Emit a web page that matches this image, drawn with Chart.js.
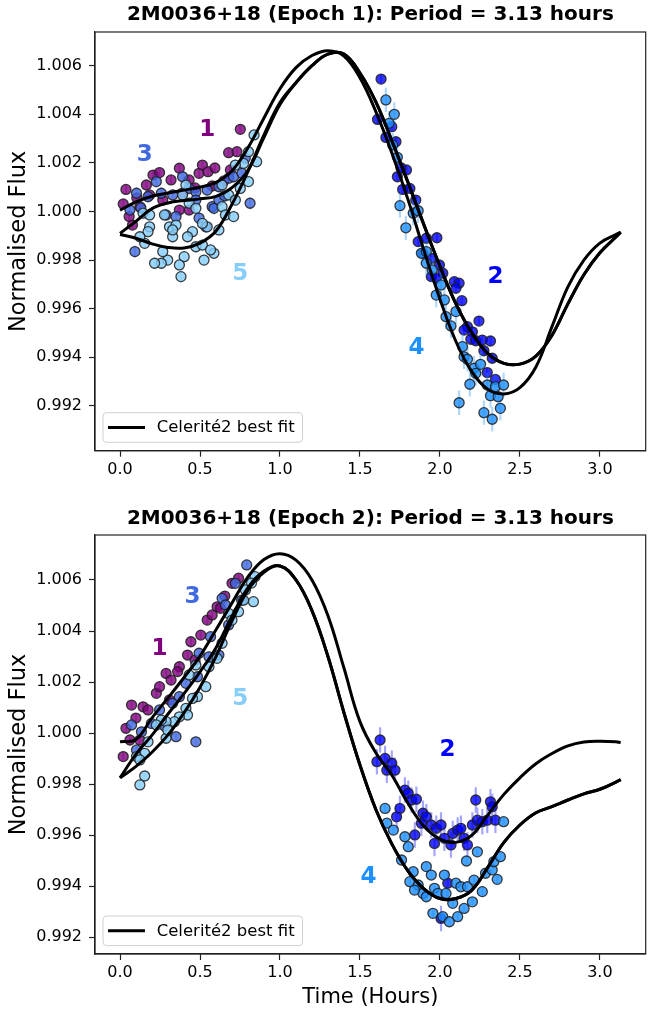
<!DOCTYPE html>
<html>
<head>
<meta charset="utf-8">
<script src="https://cdn.jsdelivr.net/npm/chart.js@4.4.0/dist/chart.umd.min.js"></script>
<style>
  body { margin: 0; background: #fff; width: 651px; height: 1014px; overflow: hidden; position: relative; }
  canvas { position: absolute; left: 0; }
  #top { top: 0; }
  #bottom { top: 500px; }
</style>
</head>
<body>
<canvas id="top" width="652" height="500"></canvas>
<canvas id="bottom" width="652" height="514"></canvas>
<script>
// time grid of the best-fit curves (hours)
const fitTime = [0, 0.1, 0.2, 0.3, 0.4, 0.5, 0.6, 0.7, 0.8, 0.9, 1.0, 1.1, 1.2, 1.3, 1.4, 1.5, 1.6,
  1.7, 1.8, 1.9, 2.0, 2.1, 2.2, 2.3, 2.4, 2.5, 2.6, 2.7, 2.8, 2.9, 3.0, 3.1, 3.13];

// Epoch 1 best fits
const topFitA = [1.00005, 1.00040, 1.00063, 1.00076, 1.00088, 1.00100, 1.00120, 1.00168, 1.00262, 1.00385,
  1.00505, 1.00592, 1.00642, 1.00662, 1.00640, 1.00550, 1.00410, 1.00240, 1.00050, 0.99840,
  0.99640, 0.99465, 0.99340, 0.99268, 0.99249, 0.99275, 0.99360, 0.99525, 0.99690, 0.99800,
  0.99870, 0.99905, 0.99915];
const topFitB = [0.99910, 0.99960, 1.00012, 1.00035, 1.00045, 1.00052, 1.00062, 1.00098, 1.00170, 1.00305,
  1.00440, 1.00530, 1.00600, 1.00648, 1.00648, 1.00570, 1.00450, 1.00290, 1.00120, 0.99945,
  0.99775, 0.99620, 0.99500, 0.99415, 0.99375, 0.99372, 0.99405, 0.99490, 0.99620, 0.99740,
  0.99830, 0.99895, 0.99915];
const topFitC = [0.99905, 0.99890, 0.99867, 0.99852, 0.99850, 0.99870, 0.99920, 1.00030, 1.00165, 1.00315,
  1.00448, 1.00530, 1.00600, 1.00648, 1.00648, 1.00570, 1.00450, 1.00290, 1.00120, 0.99945,
  0.99775, 0.99620, 0.99500, 0.99415, 0.99375, 0.99372, 0.99405, 0.99490, 0.99620, 0.99740,
  0.99830, 0.99895, 0.99915];

// Epoch 2 best fits
const botFitU = [0.99966, 0.99975, 1.00060, 1.00138, 1.00218, 1.00302, 1.00405, 1.00510, 1.00612, 1.00680,
  1.00703, 1.00678, 1.00600, 1.00460, 1.00255, 1.00045, 0.99922, 0.99835, 0.99725, 0.99635,
  0.99585, 0.99572, 0.99600, 0.99680, 0.99760, 0.99825, 0.99880, 0.99920, 0.99950, 0.99965,
  0.99968, 0.99966, 0.99963];
const botFitM = [0.99825, 0.99918, 0.99992, 1.00075, 1.00155, 1.00240, 1.00335, 1.00458, 1.00570, 1.00635,
  1.00655, 1.00600, 1.00480, 1.00300, 1.00080, 0.99875, 0.99700, 0.99565, 0.99460, 0.99390,
  0.99352, 0.99352, 0.99385, 0.99475, 0.99572, 0.99640, 0.99688, 0.99712, 0.99738, 0.99762,
  0.99780, 0.99808, 0.99818];
const botFitL = [0.99825, 0.99870, 0.99925, 0.99993, 1.00080, 1.00180, 1.00300, 1.00440, 1.00560, 1.00630,
  1.00655, 1.00600, 1.00480, 1.00300, 1.00080, 0.99875, 0.99700, 0.99565, 0.99460, 0.99390,
  0.99352, 0.99352, 0.99385, 0.99475, 0.99572, 0.99640, 0.99688, 0.99712, 0.99738, 0.99762,
  0.99780, 0.99808, 0.99818];

// observed points [time, flux], one list per rotation
const top1 = [[0.752,1.00338],[0.679,1.00242],[0.731,1.00246],[0.037,1.00091],[0.020,1.00031],[0.057,0.99979],
  [0.078,0.99944],[0.165,1.00109],[0.206,1.00150],[0.247,1.00160],[0.319,1.00130],[0.371,1.00178],
  [0.432,1.00130],[0.494,1.00157],[0.515,1.00191],[0.550,1.00164],[0.690,1.00171],[0.432,1.00006],
  [0.371,1.00006],[0.124,1.00020],[0.267,1.00047],[0.391,1.00076],[0.576,1.00105],[0.649,1.00126],
  [0.185,1.00068],[0.593,1.00179],[0.469,1.00097],[0.105,1.00056]];
const top2 = [[1.632,1.00545],[1.610,1.00379],[1.662,1.00305],[1.725,1.00287],[1.734,1.00143],[1.791,1.00171],
  [1.767,1.00091],[1.812,1.00095],[1.849,1.00047],[1.864,0.99876],[1.915,0.99890],[1.981,0.99892],
  [1.699,1.00349],[1.756,1.00180],[1.894,0.99828],[1.946,0.99807],[1.997,0.99780],[2.018,0.99746],
  [1.946,0.99732],[1.977,0.99725],[2.090,0.99711],[2.120,0.99705],[2.100,0.99684],[2.137,0.99633],
  [2.244,0.99549],[2.172,0.99526],[2.151,0.99512],[2.203,0.99505],[2.193,0.99474],[2.224,0.99468],
  [2.265,0.99471],[2.316,0.99467],[2.275,0.99427],[2.327,0.99396],[2.296,0.99337],[2.347,0.99309]];
const top3 = [[0.813,1.00034],[0.093,0.99835],[0.062,1.00006],[0.103,1.00075],[0.227,1.00123],[0.391,1.00143],
  [0.288,0.99986],[0.350,0.99979],[0.536,0.99937],[0.576,1.00020],[0.545,1.00088],[0.618,1.00102],
  [0.679,1.00137],[0.710,1.00143],[0.762,1.00157],[0.783,1.00219],[0.432,1.00095],[0.474,1.00081],
  [0.329,1.00068],[0.258,1.00075],[0.175,1.00061],[0.474,1.00047],[0.618,1.00047],[0.587,1.00013],
  [0.130,1.00015],[0.494,0.99973],[0.655,1.00064]];
const top4 = [[1.662,1.00459],[1.715,1.00400],[1.682,1.00363],[1.705,1.00274],[1.734,1.00223],[1.750,1.00024],
  [1.787,0.99933],[1.833,0.99993],[1.864,1.00003],[1.884,0.99828],[1.915,0.99835],[1.915,0.99787],
  [1.977,0.99656],[2.028,0.99636],[2.038,0.99567],[2.069,0.99529],[2.100,0.99588],[2.141,0.99444],
  [2.151,0.99402],[2.172,0.99392],[2.213,0.99355],[2.224,0.99334],[2.254,0.99371],[2.187,0.99289],
  [2.296,0.99286],[2.347,0.99279],[2.398,0.99286],[2.316,0.99242],[2.364,0.99238],[2.378,0.99190],
  [2.120,0.99213],[2.275,0.99172],[2.327,0.99145],[1.952,0.99760],[2.007,0.99698]];
const top5 = [[0.838,1.00315],[0.803,1.00246],[0.854,1.00205],[0.772,1.00198],[0.721,1.00191],[0.803,1.00123],
  [0.752,1.00095],[0.679,1.00068],[0.721,1.00047],[0.638,1.00020],[0.659,0.99986],[0.710,0.99979],
  [0.618,0.99924],[0.545,0.99937],[0.515,0.99951],[0.453,0.99917],[0.422,0.99896],[0.474,0.99855],
  [0.515,0.99862],[0.587,0.99828],[0.566,0.99842],[0.525,0.99800],[0.401,0.99814],[0.371,0.99780],
  [0.381,0.99732],[0.298,0.99800],[0.258,0.99787],[0.216,0.99787],[0.267,0.99835],[0.329,0.99896],
  [0.309,0.99937],[0.350,0.99944],[0.185,0.99937],[0.175,0.99917],[0.154,0.99869],[0.124,0.99896],
  [0.144,0.99993],[0.185,0.99986],[0.278,0.99986],[0.432,1.00034],[0.474,1.00013],[0.391,1.00068],
  [0.412,1.00109],[0.638,1.00109],[0.329,0.99924]];

const bot1 = [[0.020,0.99908],[0.037,1.00019],[0.072,1.00110],[0.144,1.00103],[0.175,1.00091],[0.227,1.00156],
  [0.247,1.00182],[0.288,1.00234],[0.319,1.00208],[0.371,1.00260],[0.360,1.00241],[0.422,1.00306],
  [0.443,1.00358],[0.505,1.00384],[0.545,1.00443],[0.576,1.00463],[0.607,1.00495],[0.628,1.00489],
  [0.700,1.00587],[0.741,1.00607],[0.062,0.99973],[0.124,0.99973],[0.099,1.00059],[0.655,1.00537],
  [0.469,1.00286],[0.309,1.00130]];
const bot2 = [[1.626,0.99973],[1.606,0.99888],[1.657,0.99901],[1.699,0.99882],[1.719,0.99855],[1.668,0.99855],
  [1.781,0.99777],[1.802,0.99764],[1.822,0.99738],[1.853,0.99741],[1.750,0.99705],[1.729,0.99672],
  [1.894,0.99686],[1.915,0.99672],[1.884,0.99647],[1.843,0.99601],[1.946,0.99640],[1.977,0.99627],
  [2.007,0.99640],[1.966,0.99568],[2.028,0.99588],[2.069,0.99562],[2.080,0.99607],[2.111,0.99620],
  [2.131,0.99627],[2.151,0.99588],[2.172,0.99562],[2.203,0.99640],[2.234,0.99659],[2.265,0.99653],
  [2.224,0.99738],[2.316,0.99731],[2.327,0.99712],[2.296,0.99659],[2.347,0.99659],[2.049,0.99412],
  [2.007,0.99274]];
const bot3 = [[0.792,1.00659],[0.721,1.00587],[0.638,1.00528],[0.659,1.00502],[0.566,1.00378],[0.556,1.00299],
  [0.618,1.00306],[0.412,1.00195],[0.484,1.00221],[0.474,0.99966],[0.350,0.99986],[0.329,1.00117],
  [0.371,1.00143],[0.196,1.00038],[0.134,1.00005],[0.072,1.00032],[0.103,0.99934],[0.247,1.00091],
  [0.494,1.00313],[0.679,1.00424],[0.760,1.00521],[0.278,1.00028]];
const bot4 = [[2.398,0.99653],[1.657,0.99705],[1.668,0.99647],[1.709,0.99620],[1.781,0.99594],[1.802,0.99555],
  [1.760,0.99503],[1.833,0.99457],[1.812,0.99418],[1.915,0.99477],[1.946,0.99444],[1.864,0.99405],
  [1.894,0.99372],[1.841,0.99385],[1.915,0.99359],[1.966,0.99392],[1.987,0.99372],[2.038,0.99372],
  [2.028,0.99444],[2.080,0.99333],[2.100,0.99412],[2.131,0.99398],[2.172,0.99398],[2.203,0.99339],
  [1.956,0.99294],[2.018,0.99281],[2.059,0.99261],[2.111,0.99281],[2.151,0.99313],[2.213,0.99424],
  [2.265,0.99379],[2.285,0.99451],[2.327,0.99464],[2.358,0.99427],[2.337,0.99496],[2.378,0.99516],
  [2.166,0.99499],[2.234,0.99535]];
const bot5 = [[0.834,1.00515],[0.844,1.00613],[0.772,1.00521],[0.741,1.00476],[0.679,1.00469],[0.700,1.00443],
  [0.638,1.00352],[0.607,1.00293],[0.536,1.00182],[0.556,1.00260],[0.474,1.00267],[0.432,1.00228],
  [0.484,1.00143],[0.453,1.00136],[0.412,1.00097],[0.422,1.00071],[0.371,1.00064],[0.340,1.00045],
  [0.288,1.00045],[0.258,1.00051],[0.227,1.00032],[0.288,0.99980],[0.298,1.00012],[0.175,0.99966],
  [0.154,0.99921],[0.103,0.99908],[0.124,0.99895],[0.154,0.99832],[0.124,0.99797],[0.822,1.00588],
  [0.784,1.00561]];

// flux error per rotation (1..5)
const topErr = [0.0002, 0.0002, 0.00025, 0.0005, 0.00025];
const botErr = [0.0002, 0.0005, 0.0002, 0.00015, 0.0002];

// rotation number labels
const rotNames = ['1', '2', '3', '4', '5'];
const topLabelT = [0.546, 2.347, 0.154, 1.853, 0.751];
const topLabelV = [1.00336, 0.99730, 1.00233, 0.99437, 0.99743];
const botLabelT = [0.247, 2.048, 0.453, 1.554, 0.751];
const botLabelV = [1.00331, 0.99932, 1.00535, 0.99438, 1.00133];

const xTicks = [0, 0.5, 1, 1.5, 2, 2.5, 3];
const yTicks = [0.992, 0.994, 0.996, 0.998, 1.000, 1.002, 1.004, 1.006];

const rotRGB = [[128, 0, 128], [0, 0, 255], [65, 105, 225], [30, 144, 255], [135, 206, 250]];
const rgba = (c, a) => `rgba(${c[0]},${c[1]},${c[2]},${a})`;

Chart.defaults.font.family = '"DejaVu Sans", sans-serif';
Chart.defaults.color = '#000';

function errData(pts, e) {
  const d = [];
  pts.forEach(p => {
    d.push({x: p[0], y: p[1] - e}, {x: p[0], y: p[1] + e}, {x: p[0], y: null});
  });
  return d;
}

function buildDatasets(fits, groups, errs) {
  const ds = fits.map(f => ({
    type: 'line',
    data: fitTime.map((t, i) => ({x: t, y: f[i]})),
    borderColor: '#000', borderWidth: 3, pointRadius: 0, tension: 0.4, fill: false
  }));
  // rotation 5 first so that it sits on top, like the later calls in pyplot
  for (let g = 4; g >= 0; g--) {
    ds.push({
      type: 'scatter',
      data: groups[g].map(p => ({x: p[0], y: p[1]})),
      pointRadius: 5,
      backgroundColor: rgba(rotRGB[g], 0.8),
      borderColor: 'rgba(30,30,30,0.85)',
      borderWidth: 1.3
    });
    ds.push({
      type: 'line',
      data: errData(groups[g], errs[g]),
      borderColor: rgba(rotRGB[g], 0.35),
      borderWidth: 2.2, pointRadius: 0, tension: 0, spanGaps: false, fill: false
    });
  }
  return ds;
}

const framePlugin = {
  id: 'frame',
  afterDraw(chart) {
    const {ctx, chartArea: a} = chart;
    ctx.save();
    ctx.strokeStyle = '#222';
    ctx.lineWidth = 1.2;
    ctx.strokeRect(a.left, a.top, a.right - a.left, a.bottom - a.top);
    ctx.restore();
  }
};

function rotationLabels(ts, vs) {
  return {
    id: 'rotationLabels',
    afterDatasetsDraw(chart) {
      const {ctx, scales: {x, y}} = chart;
      ctx.save();
      ctx.font = 'bold 23px "DejaVu Sans"';
      ctx.textAlign = 'center';
      ctx.textBaseline = 'middle';
      rotNames.forEach((s, i) => {
        ctx.fillStyle = rgba(rotRGB[i], 1);
        ctx.fillText(s, x.getPixelForValue(ts[i]), y.getPixelForValue(vs[i]));
      });
      ctx.restore();
    }
  };
}

// legend box in the lower left corner of the axes
const fitLegend = {
  id: 'fitLegend',
  afterDraw(chart) {
    const {ctx, chartArea: a} = chart;
    const w = 199.5, h = 29.6, r = 3.5;
    const bx = a.left + 8, by = a.bottom - 8.4 - h;
    ctx.save();
    ctx.beginPath();
    ctx.moveTo(bx + r, by);
    ctx.arcTo(bx + w, by, bx + w, by + h, r);
    ctx.arcTo(bx + w, by + h, bx, by + h, r);
    ctx.arcTo(bx, by + h, bx, by, r);
    ctx.arcTo(bx, by, bx + w, by, r);
    ctx.closePath();
    ctx.fillStyle = 'rgba(255,255,255,0.8)';
    ctx.fill();
    ctx.strokeStyle = '#d0d0d0';
    ctx.lineWidth = 1;
    ctx.stroke();
    const cy = by + h / 2;
    ctx.beginPath();
    ctx.moveTo(bx + 5, cy);
    ctx.lineTo(bx + 42, cy);
    ctx.strokeStyle = '#000';
    ctx.lineWidth = 3;
    ctx.stroke();
    ctx.fillStyle = '#000';
    ctx.font = '16.5px "DejaVu Sans"';
    ctx.textBaseline = 'middle';
    ctx.fillText('Celerité2 best fit', bx + 53.7, cy + 0.5);
    ctx.restore();
  }
};

function makeChart(id, opt) {
  const tickGrid = {drawOnChartArea: false, drawTicks: true, tickLength: 6, tickColor: '#222', tickWidth: 1.2};
  return new Chart(document.getElementById(id), {
    type: 'scatter',
    data: {datasets: buildDatasets(opt.fits, opt.groups, opt.errs)},
    options: {
      responsive: false,
      animation: false,
      devicePixelRatio: 1,
      layout: {padding: 0},
      plugins: {
        legend: {display: false},
        tooltip: {enabled: false},
        title: {
          display: true, text: opt.title, fullSize: false, color: '#000',
          font: {size: 20, weight: 'bold'}, padding: opt.titlePad
        }
      },
      scales: {
        x: {
          type: 'linear', min: -0.1565, max: 3.2865,
          afterBuildTicks: s => { s.ticks = xTicks.map(v => ({value: v})); },
          ticks: {callback: v => v.toFixed(1), padding: 3.6, maxRotation: 0, autoSkip: false, font: {size: 16}},
          grid: tickGrid,
          border: {color: '#222', width: 1.2},
          title: {display: opt.xTitle, text: 'Time (Hours)', font: {size: 21}, padding: {top: 0, bottom: 3.4}},
          afterFit: s => { s.height = opt.xHeight; }
        },
        y: {
          type: 'linear', min: opt.yMin, max: opt.yMax,
          afterBuildTicks: s => { s.ticks = yTicks.map(v => ({value: v})); },
          ticks: {callback: v => v.toFixed(3), padding: 7, autoSkip: false, font: {size: 16}},
          grid: tickGrid,
          border: {color: '#222', width: 1.2},
          title: {display: true, text: 'Normalised Flux', font: {size: 22.5}, padding: {top: 6, bottom: 0}},
          afterFit: s => { s.width = 95; }
        }
      }
    },
    plugins: [rotationLabels(opt.labelT, opt.labelV), framePlugin, fitLegend]
  });
}

makeChart('top', {
  title: '2M0036+18 (Epoch 1): Period = 3.13 hours',
  titlePad: {top: 3, bottom: 5},
  fits: [topFitA, topFitB, topFitC],
  groups: [top1, top2, top3, top4, top5],
  errs: topErr,
  labelT: topLabelT, labelV: topLabelV,
  yMin: 0.990156, yMax: 1.007387,
  xTitle: false, xHeight: 49.3
});

makeChart('bottom', {
  title: '2M0036+18 (Epoch 2): Period = 3.13 hours',
  titlePad: {top: 7, bottom: 4},
  fits: [botFitU, botFitM, botFitL],
  groups: [bot1, bot2, bot3, bot4, bot5],
  errs: botErr,
  labelT: botLabelT, labelV: botLabelV,
  yMin: 0.991346, yMax: 1.007763,
  xTitle: true, xHeight: 60
});
</script>
</body>
</html>
